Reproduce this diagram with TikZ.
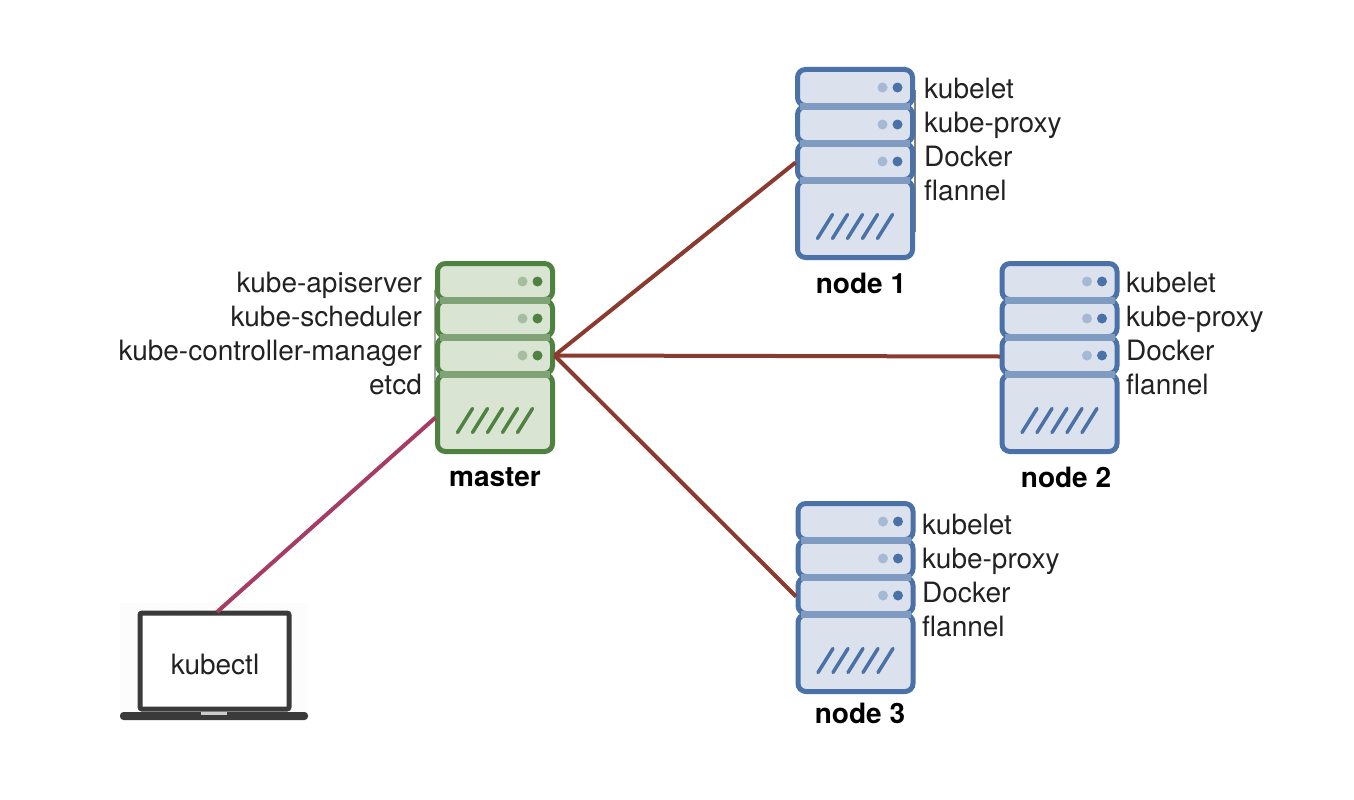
\documentclass[tikz,border=0pt]{standalone}
\usepackage{fontspec}
\setmainfont{TeX Gyre Heros}
\usetikzlibrary{patterns}
\definecolor{greenline}{HTML}{4F8240}
\definecolor{greenfill}{HTML}{D9E4D3}
\definecolor{greenband}{HTML}{7FA377}
\definecolor{blueline}{HTML}{4A72A8}
\definecolor{bluefill}{HTML}{DBE2EE}
\definecolor{blueband}{HTML}{7F9BC2}
\definecolor{linkred}{HTML}{8A3A2E}
\definecolor{linkpink}{HTML}{A63B65}
\definecolor{laptopgray}{HTML}{3A3A3A}
\definecolor{labelgray}{HTML}{222222}
\tikzset{
  labeltext/.style={font=\fontsize{28}{32}\selectfont, text=labelgray, inner sep=0pt},
  captiontext/.style={font=\fontsize{28}{32}\selectfont\bfseries, text=black, inner sep=0pt},
  link/.style={line width=4pt, linkred},
  pics/server/.style n args={3}{code={
    % Slots and base
    \foreach \top/\bot in {0/36, 37/73, 74/110, 111/188}
      \draw[#1, line width=5pt, fill=#2, rounded corners=8pt] (0,\top) rectangle (115,\bot);
    % Bands between slots
    \foreach \top in {33, 70, 107.5}
      \fill[#3] (2.5,\top) rectangle (112.5,\top+7);
    % Status lights
    \foreach \y in {18, 55, 92} {
      \fill[#3!70!white] (85,\y) circle (5pt);
      \fill[#1] (100,\y) circle (5pt);
    }
    % Slashes on the base
    \foreach \x in {0, 15, ..., 60}
      \draw[#1, line width=3.5pt, line cap=round] (20+\x,169) -- (35+\x,145);
    % Ports
    \coordinate (-east) at (117,92);
    \coordinate (-west) at (-2,93);
    \coordinate (-base) at (-2,154);
  }},
}
\begin{document}
\begin{tikzpicture}[x=1pt, y=-1pt]
    \useasboundingbox (0,0) rectangle (1354,800);

    % Thin lines behind the servers
    \draw[gray!70, line width=2pt] (435,290) -- (435,420);
    \draw[gray, line width=2.5pt] (915,90) -- (915,232);

    % Servers
    \pic (master) at (437.5,263.5) {server={greenline}{greenfill}{greenband}};
    \pic (node1) at (797.5,69.5) {server={blueline}{bluefill}{blueband}};
    \pic (node2) at (1002,263.5) {server={blueline}{bluefill}{blueband}};
    \pic (node3) at (798,503.5) {server={blueline}{bluefill}{blueband}};

    % Laptop
    \fill[pattern=north east lines, pattern color=black!3] (120,603) rectangle (308,712);
    \draw[laptopgray, line width=5pt, fill=white, rounded corners=2pt] (140,613) rectangle (289,709);
    \fill[laptopgray, rounded corners=3.5pt] (120,712) rectangle (308,720);
    \fill[black!20] (201,712) rectangle (227,715);
    \coordinate (laptop-top) at (217,612);
    \node[labeltext] (kubectl) at (215,664) {kubectl};

    % Links
    \draw[link] (master-east) -- (node1-west);
    \draw[link] (master-east) -- (node2-west);
    \draw[link] (master-east) -- (node3-west);
    \draw[link, linkpink] (master-base) -- (laptop-top);

    % Master labels
    \foreach \lab [count=\i] in {kube-apiserver, kube-scheduler, kube-controller-manager, etcd}
      \node[labeltext, anchor=base east] (master-lab\i) at (422,258+34.2*\i) {\lab};

    % Worker labels
    \foreach \lab [count=\i] in {kubelet, kube-proxy, Docker, flannel} {
      \node[labeltext, anchor=base west] (node1-lab\i) at (924,64+34*\i) {\lab};
      \node[labeltext, anchor=base west] (node2-lab\i) at (1126,258+34*\i) {\lab};
      \node[labeltext, anchor=base west] (node3-lab\i) at (922,500+34*\i) {\lab};
    }

    % Captions
    \node[captiontext] (master-cap) at (495,477) {master};
    \node[captiontext] (node1-cap) at (861,283) {node 1};
    \node[captiontext] (node2-cap) at (1066,477) {node 2};
    \node[captiontext] (node3-cap) at (860,713) {node 3};
\end{tikzpicture}
\end{document}
